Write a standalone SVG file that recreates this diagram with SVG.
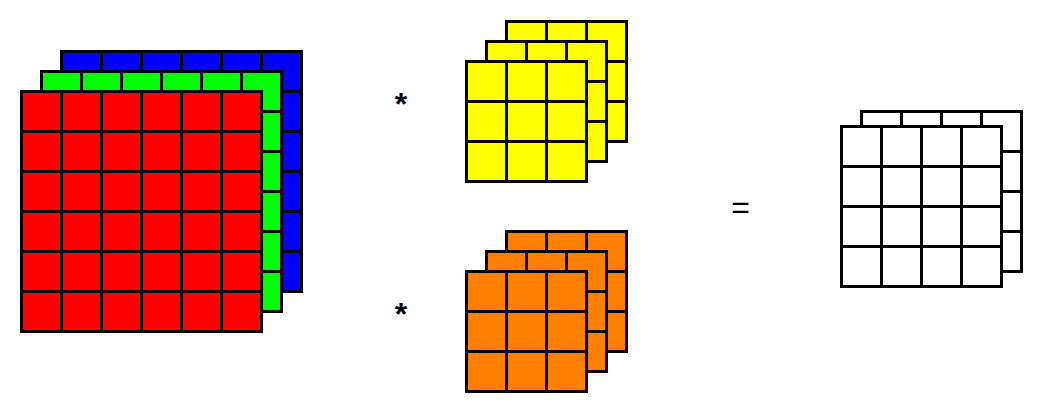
<svg xmlns="http://www.w3.org/2000/svg" width="1044" height="414" viewBox="0 0 1044 414">
<style>
.ln{fill:none;stroke:#000;stroke-width:3}
.bd{stroke:#000;stroke-width:3}
.op{font-family:"Liberation Sans",Arial,sans-serif;fill:#000;text-anchor:middle}
.ast{font-weight:bold;font-size:32px}
</style>
<defs>
<g id="g6"><rect class="bd" width="240" height="240"/><path class="ln" d="M40 0V240M80 0V240M120 0V240M160 0V240M200 0V240M0 40H240M0 80H240M0 120H240M0 160H240M0 200H240"/></g>
<g id="g3"><rect class="bd" width="120" height="120"/><path class="ln" d="M40 0V120M80 0V120M0 40H120M0 80H120"/></g>
<g id="g4"><rect class="bd" width="160" height="160"/><path class="ln" d="M40 0V160M80 0V160M120 0V160M0 40H160M0 80H160M0 120H160"/></g>
</defs>
<rect width="1044" height="414" fill="#fff"/>
<g id="input">
<use href="#g6" x="61.5" y="51.5" fill="#0000ff"/>
<use href="#g6" x="41.5" y="71.5" fill="#00ff00"/>
<use href="#g6" x="21.5" y="91.5" fill="#ff0000"/>
</g>
<g id="kernel1">
<use href="#g3" x="506.5" y="21.5" fill="#ffff00"/>
<use href="#g3" x="486.5" y="41.5" fill="#ffff00"/>
<use href="#g3" x="466.5" y="61.5" fill="#ffff00"/>
</g>
<g id="kernel2">
<use href="#g3" x="506.5" y="231.5" fill="#ff8000"/>
<use href="#g3" x="486.5" y="251.5" fill="#ff8000"/>
<use href="#g3" x="466.5" y="271.5" fill="#ff8000"/>
</g>
<g id="output">
<use href="#g4" x="861.5" y="111.5" fill="#ffffff"/>
<use href="#g4" x="841.5" y="126.5" fill="#ffffff"/>
</g>
<g id="operators">
<text class="op ast" x="401" y="115">*</text>
<text class="op ast" x="401" y="325">*</text>
<text class="op" x="740.5" y="218" font-size="32">=</text>
</g>
</svg>
